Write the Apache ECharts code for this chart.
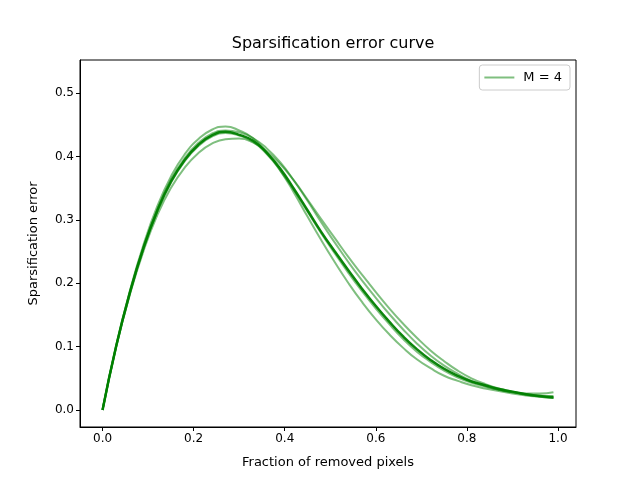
<!DOCTYPE html>
<html>
<head>
<meta charset="utf-8">
<script src="https://cdn.jsdelivr.net/npm/echarts@6/dist/echarts.min.js"></script>
<style>
  html, body { margin: 0; padding: 0; background: #fff; }
  #chart { width: 640px; height: 480px; }
</style>
</head>
<body>
<div id="chart"></div>
<script>
// fraction of removed pixels
const fractions = [0.00, 0.03, 0.06, 0.09, 0.12, 0.15, 0.18, 0.21, 0.24, 0.27,
  0.30, 0.33, 0.36, 0.39, 0.42, 0.45, 0.48, 0.51, 0.54, 0.57,
  0.60, 0.63, 0.66, 0.69, 0.72, 0.75, 0.78, 0.81, 0.84, 0.87,
  0.90, 0.93, 0.96, 0.99];

// the four runs (M = 4)
const runA = [0, 0.102, 0.188, 0.261, 0.321, 0.368, 0.403, 0.427, 0.442, 0.447,
  0.441, 0.429, 0.407, 0.378, 0.343, 0.305, 0.268, 0.233, 0.200, 0.170,
  0.143, 0.119, 0.098, 0.080, 0.066, 0.054, 0.046, 0.039, 0.034, 0.030,
  0.026, 0.023, 0.021, 0.019];
const runB = [0, 0.100, 0.182, 0.251, 0.307, 0.350, 0.382, 0.405, 0.420, 0.427,
  0.428, 0.422, 0.408, 0.388, 0.362, 0.332, 0.301, 0.271, 0.241, 0.213,
  0.186, 0.160, 0.136, 0.114, 0.094, 0.077, 0.062, 0.050, 0.041, 0.034,
  0.029, 0.025, 0.023, 0.022];
const runC = [0, 0.101, 0.186, 0.257, 0.316, 0.363, 0.397, 0.421, 0.436, 0.441,
  0.438, 0.429, 0.413, 0.391, 0.362, 0.330, 0.296, 0.264, 0.233, 0.204,
  0.177, 0.151, 0.127, 0.105, 0.086, 0.070, 0.057, 0.046, 0.038, 0.032,
  0.028, 0.026, 0.026, 0.028];
const runD = [0, 0.100, 0.184, 0.255, 0.313, 0.358, 0.392, 0.416, 0.431, 0.437,
  0.433, 0.423, 0.404, 0.378, 0.347, 0.313, 0.279, 0.247, 0.216, 0.187,
  0.160, 0.135, 0.112, 0.092, 0.076, 0.062, 0.051, 0.043, 0.037, 0.032,
  0.028, 0.024, 0.021, 0.019];

// mean curve (drawn darker)
const meanCurve = [0, 0.101, 0.185, 0.256, 0.314, 0.360, 0.394, 0.418, 0.433, 0.439,
  0.434, 0.425, 0.406, 0.381, 0.349, 0.315, 0.281, 0.250, 0.220, 0.191,
  0.164, 0.139, 0.116, 0.096, 0.079, 0.065, 0.054, 0.045, 0.039, 0.033,
  0.029, 0.025, 0.022, 0.020];

const xTicks = [0, 0.2, 0.4, 0.6, 0.8, 1.0];
const yTicks = [0, 0.1, 0.2, 0.3, 0.4, 0.5];

const legendName = 'M = 4';
const runs = [runA, runB, runC, runD];

function pairs(ys) {
  return fractions.map((x, i) => [x, ys[i]]);
}

const font = 'DejaVu Sans';

let series = runs.map(r => ({
  name: legendName,
  type: 'line',
  data: pairs(r),
  smooth: true,
  symbol: 'none',
  lineStyle: { color: 'green', width: 2, opacity: 0.5 },
  itemStyle: { color: 'rgba(0,128,0,0.5)' },
  z: 2
}));
series.push({
  name: 'mean',
  type: 'line',
  data: pairs(meanCurve),
  smooth: true,
  symbol: 'none',
  lineStyle: { color: 'green', width: 2.5, opacity: 0.95 },
  z: 3
});

const chart = echarts.init(document.getElementById('chart'), null, { renderer: 'canvas' });

chart.setOption({
  animation: false,
  backgroundColor: '#fff',
  title: {
    text: 'Sparsification error curve',
    left: 328,
    top: 31,
    textAlign: 'center',
    textStyle: { fontFamily: font, fontSize: 16, fontWeight: 'normal', color: '#000' }
  },
  legend: {
    data: [{ name: legendName, icon: 'rect' }],
    right: 70,
    top: 65,
    orient: 'vertical',
    itemWidth: 30,
    itemHeight: 2,
    itemGap: 0,
    padding: [6, 8, 6, 5],
    borderColor: '#ccc',
    borderWidth: 1,
    borderRadius: 3,
    textStyle: { fontFamily: font, fontSize: 13, color: '#000', padding: [0, 0, 0, 4] }
  },
  grid: {
    left: 80, right: 64, top: 60, bottom: 53,
    show: true, borderColor: '#000', borderWidth: 1, backgroundColor: 'transparent'
  },
  xAxis: {
    type: 'value',
    min: -0.0495,
    max: 1.0395,
    name: 'Fraction of removed pixels',
    nameLocation: 'middle',
    nameGap: 29,
    nameTextStyle: { fontFamily: font, fontSize: 13, color: '#000' },
    axisLine: { show: true, onZero: false, lineStyle: { color: '#000' } },
    axisTick: { show: true, length: 4, customValues: xTicks, lineStyle: { color: '#000' } },
    axisLabel: {
      customValues: xTicks, margin: 6,
      fontFamily: font, fontSize: 12, color: '#000',
      formatter: v => v.toFixed(1)
    },
    splitLine: { show: false }
  },
  yAxis: {
    type: 'value',
    min: -0.0268,
    max: 0.552,
    name: 'Sparsification error',
    nameLocation: 'middle',
    nameGap: 40,
    nameTextStyle: { fontFamily: font, fontSize: 13, color: '#000' },
    axisLine: { show: true, onZero: false, lineStyle: { color: '#000' } },
    axisTick: { show: true, length: 4, customValues: yTicks, lineStyle: { color: '#000' } },
    axisLabel: {
      customValues: yTicks, margin: 6,
      fontFamily: font, fontSize: 12, color: '#000',
      formatter: v => v.toFixed(1)
    },
    splitLine: { show: false }
  },
  series: series
});
</script>
</body>
</html>
